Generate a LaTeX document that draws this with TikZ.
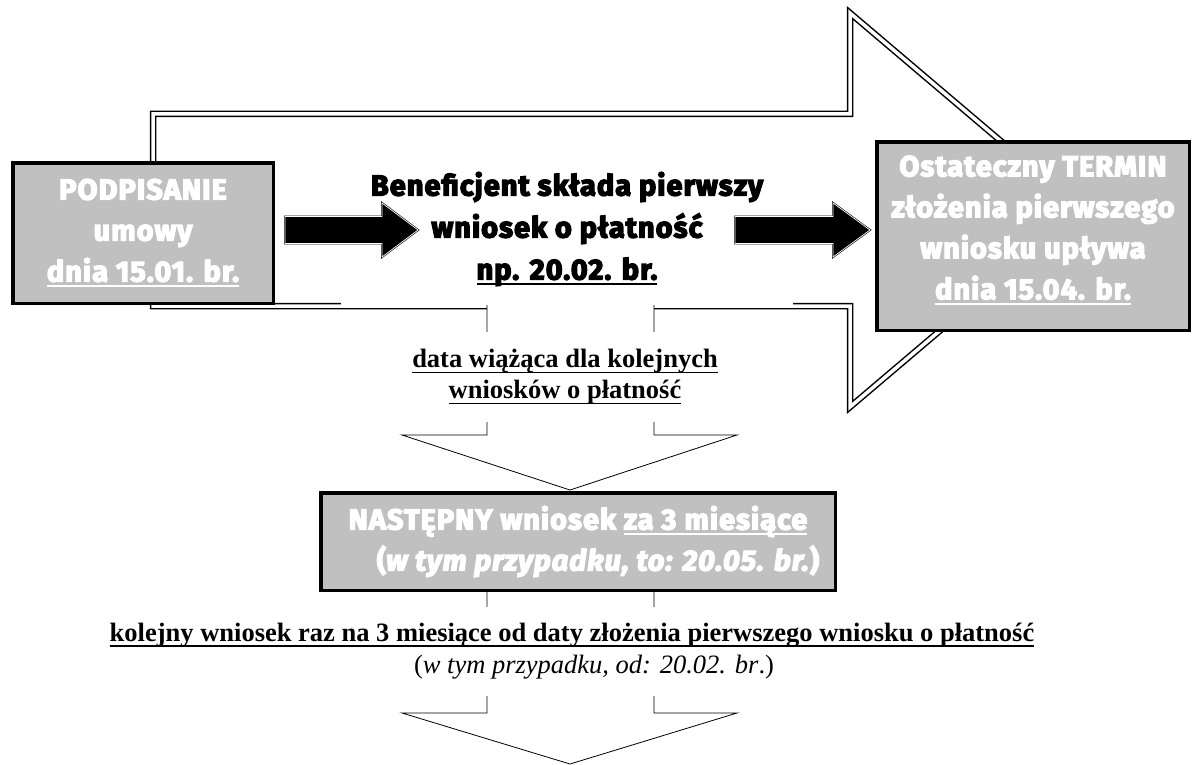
\documentclass[tikz,border=0pt]{standalone}
\usepackage{fontspec}
\setmainfont{Liberation Serif}
\newfontfamily\heavyfont{Fira Sans}[FakeBold=4.5, LetterSpace=3.4]
\definecolor{boxgrey}{HTML}{C0C0C0}
\newcommand{\ubar}[1]{\setbox0=\hbox{#1}\rlap{\rule[-5.5pt]{\wd0}{1.8pt}}\box0}

\tikzset{
  greybox/.style={draw=black, line width=3.5pt, fill=boxgrey, text=white, align=center,
    inner sep=0pt, font=\heavyfont\bfseries\fontsize{29}{41}\selectfont},
  heavytext/.style={fill=white, align=center, inner sep=0pt, font=\heavyfont\bfseries\fontsize{29}{42}\selectfont},
  serifnote/.style={fill=white, align=center, inner sep=0pt, font=\bfseries\fontsize{26.5}{31}\selectfont},
  bigarrow/.style={draw=black, line width=1.5pt, double=white, double distance=3.5pt},
  blockarrow/.style={fill=black, draw=black, line width=0.6pt, double=white, double distance=0.7pt},
  downarrow/.style={draw=black, line width=0.8pt},
}

\begin{document}
\begin{tikzpicture}[x=1pt, y=-1pt]
  \useasboundingbox (0,0) rectangle (1193,765);
  % big outline arrow behind everything
  \draw[bigarrow] (153,114) -- (850,114) -- (850,13) -- (1082,210) -- (850,407)
    -- (850,306) -- (153,306) -- cycle;
  \node[greybox, minimum width=260.5pt, minimum height=140.5pt] (sign) at (143,233)
    {PODPISANIE\\umowy\\\ubar{dnia 15.01. br.}};
  \node[greybox, minimum width=312.5pt, minimum height=188.5pt, text depth=17pt] (deadline) at (1033,236)
    {Ostateczny TERMIN\\złożenia pierwszego\\wniosku upływa\\\ubar{dnia 15.04. br.}};
  \node[heavytext, minimum width=452pt, minimum height=154pt] (first) at (567,229)
    {Beneficjent składa pierwszy\\wniosek o płatność\\\ubar{np. 20.02. br.}};
  \draw[blockarrow] (285,216.5) -- (382,216.5) -- (382,203) -- (418,230) -- (382,257)
    -- (382,243.5) -- (285,243.5) -- cycle;
  \draw[blockarrow] (735,216.5) -- (833,216.5) -- (833,203) -- (870,230) -- (833,257)
    -- (833,243.5) -- (735,243.5) -- cycle;
  % first down arrow
  \fill[white] (487,305) -- (487,435) -- (402,435) -- (570,490) -- (737,435) -- (654,435)
    -- (654,305) -- cycle;
  \draw[downarrow] (487,305) -- (487,435) -- (402,435) -- (570,490) -- (737,435)
    -- (654,435) -- (654,305);
  \node[serifnote, minimum width=320pt, minimum height=90pt] (binding) at (565,377)
    {\ubar{data wiążąca dla kolejnych}\\\ubar{wniosków o płatność}};
  % second down arrow
  \draw[downarrow] (487,592) -- (487,713) -- (402,713) -- (570,764) -- (737,713)
    -- (654,713) -- (654,592);
  \node[serifnote, minimum height=89pt, font=\fontsize{26.5}{32}\selectfont] (later) at (572,651)
    {\textbf{\ubar{kolejny wniosek raz na 3 miesiące od daty złożenia pierwszego wniosku o płatność}}\\
     \hspace*{44pt}(\textit{w tym przypadku, od: 20.02. br}.)};
  \node[greybox, minimum width=514.5pt, minimum height=97.5pt] (next) at (578,541.5)
    {NASTĘPNY wniosek \ubar{za 3 miesiące}\\\hspace*{40pt}(\textit{w tym przypadku, to: 20.05. br.})};
\end{tikzpicture}
\end{document}
